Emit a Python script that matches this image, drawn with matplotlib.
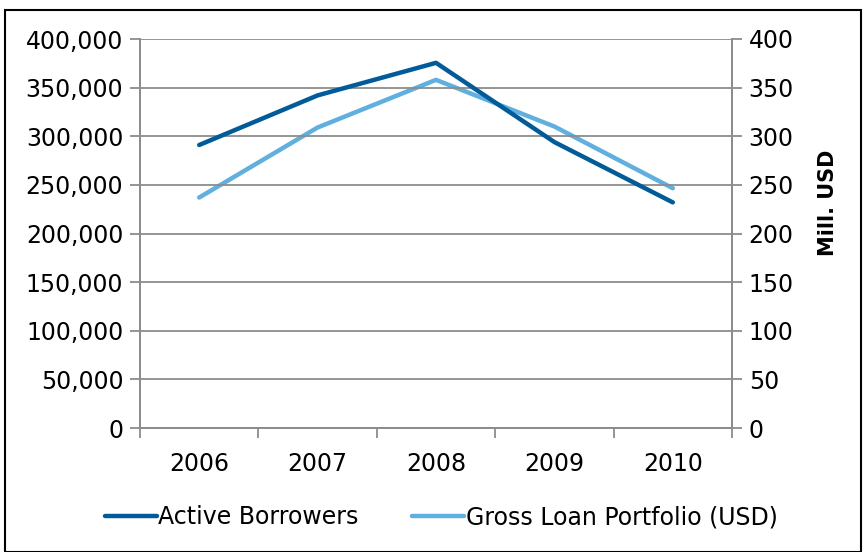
import matplotlib
matplotlib.use("Agg")
import matplotlib.pyplot as plt
from matplotlib.patches import Rectangle
from matplotlib.ticker import FuncFormatter, FixedLocator

years = ["2006", "2007", "2008", "2009", "2010"]
active_borrowers = [291000, 342000, 375500, 294000, 232000]
gross_loan_musd = [237, 309, 358, 310, 246.5]

dark = "#005B9A"
light = "#5FB0E0"
grid = "#8C8C8C"

plt.rcParams["font.family"] = ["DejaVu Sans"]

fig = plt.figure(figsize=(8.64, 5.52), dpi=100)
ax = fig.add_axes([140/864, 1-428/552, (732-140)/864, (428-39)/552])
ax2 = ax.twinx()

x = list(range(len(years)))
l1, = ax.plot(x, active_borrowers, color=dark, lw=3.2, solid_capstyle="round", label="Active Borrowers", zorder=3)
l2, = ax2.plot(x, gross_loan_musd, color=light, lw=3.2, solid_capstyle="round", label="Gross Loan Portfolio (USD)", zorder=3)

ax.set_xlim(-0.5, len(years)-0.5)
ax.set_ylim(0, 400000)
ax2.set_ylim(0, 400)
ax.set_yticks(range(0, 400001, 50000))
ax2.set_yticks(range(0, 401, 50))
ax.yaxis.set_major_formatter(FuncFormatter(lambda v, p: f"{int(v):,}"))
ax.grid(axis="y", color=grid, lw=1.3)
ax.set_axisbelow(True)

fs = 17
ax.xaxis.set_major_locator(FixedLocator([i - 0.5 for i in range(len(years)+1)]))
ax.xaxis.set_minor_locator(FixedLocator(x))
ax.set_xticklabels([])
ax.set_xticklabels(years, minor=True)
ax.tick_params(axis="x", which="minor", length=0, pad=17, labelsize=fs)
ax.tick_params(axis="x", which="major", length=7, color=grid, width=1.3, direction="out")
ax.tick_params(axis="y", length=7, color=grid, width=1.3, labelsize=fs, pad=5)
ax2.tick_params(axis="y", length=7, color=grid, width=1.3, labelsize=fs, pad=5)

for a in (ax, ax2):
    a.spines["top"].set_visible(False)
    for s in ("left", "right", "bottom"):
        a.spines[s].set_color(grid)
        a.spines[s].set_linewidth(1.3)

ax2.set_ylabel("Mill. USD", fontsize=15, fontweight="bold")
ax2.yaxis.set_label_coords((818-140)/592, (428-203)/389)

# ensure dark line on top
ax.set_zorder(ax2.get_zorder() + 1)
ax.patch.set_visible(False)

fig.legend([l1, l2], ["Active Borrowers", "Gross Loan Portfolio (USD)"], loc="center",
           bbox_to_anchor=(441/864, 1-517/552), ncol=2, frameon=False, fontsize=fs,
           handlelength=2.2, columnspacing=2.3, handletextpad=0.05)

fig.patches.append(Rectangle((5/864, 0), (861-5)/864, 1-10/552, transform=fig.transFigure,
                             fill=False, edgecolor="black", lw=1.5))

fig.savefig("out.png", dpi=100)
